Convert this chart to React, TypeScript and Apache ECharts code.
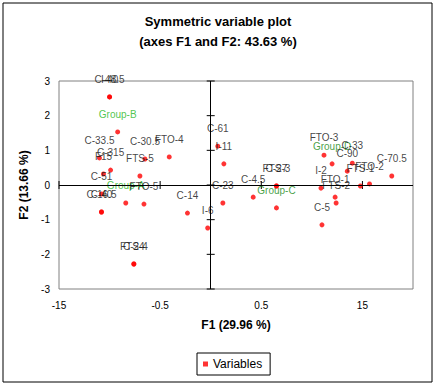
import React, { useEffect, useRef } from "react";
import * as echarts from "echarts";

// Variable labels, F1 and F2 coordinates
const labels = [
  "C-48.5", "I-40", "Group-B", "C-33.5", "C-30.5", "FTO-4", "C-61", "C-315", "F15",
  "FTS-5", "C-51", "Group-A", "FTO-5", "C-40", "C-16.5", "C-14", "I-6", "FTS-4", "C-24",
  "I-11", "C-23", "C-4.5", "FTS-3", "C-27", "Group-C", "FTO-3", "Group-D", "C-33",
  "C-90", "C-70.5", "FTO-2", "FTS-1", "I-2", "FTO-1", "FTS-2", "C-5",
];
const f1 = [
  -1.0, -1.0, -0.92, -1.1, -0.65, -0.41, 0.07, -0.99, -1.06,
  -0.7, -1.08, -0.84, -0.66, -1.08, -1.08, -0.23, -0.03, -0.76, -0.76,
  0.13, 0.12, 0.42, 0.65, 0.65, 0.65, 1.12, 1.2, 1.4,
  1.35, 1.79, 1.57, 1.48, 1.09, 1.23, 1.24, 1.1,
];
const f2 = [
  2.54, 2.54, 1.53, 0.78, 0.75, 0.81, 1.12, 0.43, 0.32,
  0.26, -0.26, -0.52, -0.55, -0.78, -0.78, -0.81, -1.24, -2.28, -2.28,
  0.61, -0.52, -0.35, -0.03, -0.03, -0.66, 0.86, 0.61, 0.63,
  0.4, 0.26, 0.03, -0.03, -0.09, -0.35, -0.52, -1.15,
];
const brightGroups = ["Group-A", "Group-B"];
const darkGroups = ["Group-C", "Group-D"];

const xTickVals = [-1.5, -0.5, 0.5, 1.5];
const xTickLabels = ["-15", "-0.5", "0.5", "15"];
const yTickVals = [-3, -2, -1, 0, 1, 2, 3];

const FONT = "'Liberation Sans', Arial, sans-serif";

export default function App() {
  const ref = useRef<HTMLDivElement>(null);
  useEffect(() => {
    if (!ref.current) return;
    const chart = echarts.init(ref.current, undefined, { renderer: "svg" });
    const points = labels.map((n, i) => {
      const item: any = { name: n, value: [f1[i], f2[i]] };
      if (brightGroups.includes(n)) item.label = { color: "#22b622" };
      if (darkGroups.includes(n)) item.label = { color: "#118811" };
      return item;
    });
    const tickData = [
      ...xTickVals.map((v) => [v, 0, 1]),
      ...yTickVals.map((v) => [0, v, 0]),
    ];
    chart.setOption({
      animation: false,
      textStyle: { fontFamily: FONT },
      title: {
        text: "Symmetric variable plot\n(axes F1 and F2: 43.63 %)",
        left: "center",
        top: 6,
        textStyle: {
          fontSize: 13,
          fontWeight: "bold",
          color: "#000",
          lineHeight: 20,
          fontFamily: FONT,
        },
      },
      grid: {
        left: 59,
        right: 23,
        top: 81,
        bottom: 97,
        show: true,
        borderColor: "#808080",
        borderWidth: 1,
        backgroundColor: "transparent",
      },
      legend: {
        data: ["Variables"],
        left: 197,
        top: 353,
        orient: "horizontal",
        borderColor: "#000",
        borderWidth: 1,
        borderRadius: 0,
        padding: [5, 8, 5, 6],
        icon: "rect",
        itemWidth: 5,
        itemHeight: 5,
        textStyle: { fontSize: 12, color: "#000", fontFamily: FONT },
      },
      xAxis: {
        type: "value",
        min: -1.5,
        max: 2,
        interval: 0.5,
        name: "F1 (29.96 %)",
        nameLocation: "middle",
        nameGap: 30,
        nameTextStyle: { fontSize: 12, fontWeight: "bold", color: "#000", fontFamily: FONT },
        axisLine: { show: false, onZero: false },
        axisTick: { show: false },
        splitLine: { show: false },
        axisLabel: {
          fontSize: 10,
          color: "#000",
          margin: 11,
          fontFamily: FONT,
          formatter: (v: number) => {
            const k = xTickVals.findIndex((t) => Math.abs(t - v) < 1e-6);
            return k >= 0 ? xTickLabels[k] : "";
          },
        },
      },
      yAxis: {
        type: "value",
        min: -3,
        max: 3,
        interval: 1,
        name: "F2 (13.66 %)",
        nameLocation: "middle",
        nameRotate: 90,
        nameGap: 25,
        nameTextStyle: { fontSize: 12, fontWeight: "bold", color: "#000", fontFamily: FONT },
        axisLine: { show: false, onZero: false },
        axisTick: { show: false },
        splitLine: { show: false },
        axisLabel: { fontSize: 10, color: "#000", margin: 9, fontFamily: FONT },
      },
      series: [
        {
          type: "custom",
          name: "ticks",
          silent: true,
          clip: false,
          z: 3,
          encode: { x: 0, y: 1 },
          data: tickData,
          renderItem: (_params: any, api: any) => {
            const p = api.coord([api.value(0), api.value(1)]);
            const vert = api.value(2) === 1;
            return {
              type: "line",
              shape: vert
                ? { x1: p[0], y1: p[1] - 4, x2: p[0], y2: p[1] + 4 }
                : { x1: p[0] - 4, y1: p[1], x2: p[0] + 4, y2: p[1] },
              style: { stroke: "#000", lineWidth: 1 },
            };
          },
        },
        {
          type: "scatter",
          name: "Variables",
          symbol: "circle",
          symbolSize: 5,
          z: 4,
          itemStyle: { color: "#ff0000" },
          data: points,
          label: {
            show: true,
            position: "top",
            distance: 10,
            formatter: "{b}",
            fontSize: 10,
            color: "#111",
            fontFamily: FONT,
          },
          markLine: {
            silent: true,
            symbol: ["none", "none"],
            label: { show: false },
            lineStyle: { color: "#000", type: "solid", width: 1 },
            data: [{ xAxis: 0 }, { yAxis: 0 }],
          },
        },
      ],
      graphic: [
        {
          type: "rect",
          shape: { x: 3, y: 3, width: 429, height: 379 },
          style: { fill: "none", stroke: "#000", lineWidth: 1 },
          silent: true,
        },
      ],
    });
    return () => chart.dispose();
  }, []);
  return (
    <div
      ref={ref}
      style={{ position: "absolute", left: 0, top: 0, width: 436, height: 386 }}
    />
  );
}
